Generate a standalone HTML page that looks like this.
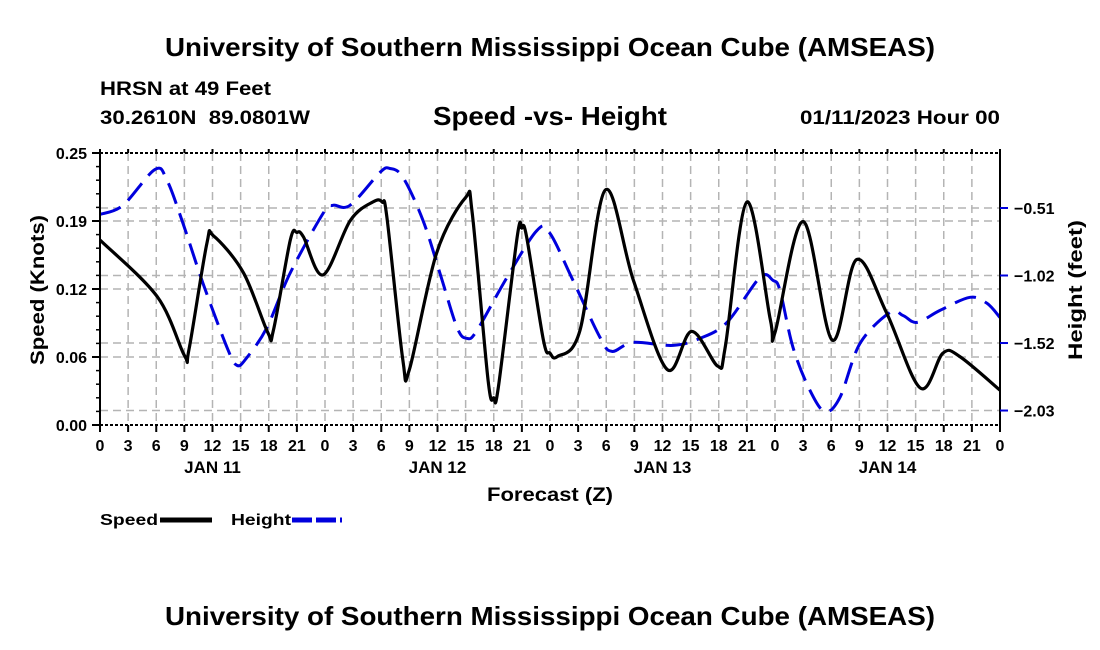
<!DOCTYPE html>
<html><head><meta charset="utf-8">
<style>
body{margin:0;background:#fff;}
svg{display:block;font-family:"Liberation Sans",Arial,sans-serif;font-weight:bold;}
</style></head>
<body>
<svg id="chart" width="1100" height="650" viewBox="0 0 1100 650" xmlns="http://www.w3.org/2000/svg">
<rect x="0" y="0" width="1100" height="650" fill="#fff"/>
<text x="165" y="56" font-size="26" textLength="770" lengthAdjust="spacingAndGlyphs">University of Southern Mississippi Ocean Cube (AMSEAS)</text>
<text x="100" y="95" font-size="19" textLength="171" lengthAdjust="spacingAndGlyphs">HRSN at 49 Feet</text>
<text x="100" y="124" font-size="19" textLength="210" lengthAdjust="spacingAndGlyphs" xml:space="preserve">30.2610N  89.0801W</text>
<text x="433" y="125" font-size="26" textLength="234" lengthAdjust="spacingAndGlyphs">Speed -vs- Height</text>
<text x="800" y="124" font-size="19" textLength="200" lengthAdjust="spacingAndGlyphs">01/11/2023 Hour 00</text>
<g id="grid"></g>
<g id="series"></g>
<g id="axes"></g>
<text transform="translate(44,290) rotate(-90)" text-anchor="middle" font-size="19" textLength="150" lengthAdjust="spacingAndGlyphs">Speed (Knots)</text>
<text transform="translate(1082,290) rotate(-90)" text-anchor="middle" font-size="19" textLength="140" lengthAdjust="spacingAndGlyphs">Height (feet)</text>
<text x="487" y="501" font-size="19" textLength="126" lengthAdjust="spacingAndGlyphs">Forecast (Z)</text>
<g>
<text x="100" y="525" font-size="16" textLength="58" lengthAdjust="spacingAndGlyphs">Speed</text>
<line x1="160" y1="520" x2="212" y2="520" stroke="#000" stroke-width="5"/>
<text x="231" y="525" font-size="16" textLength="60" lengthAdjust="spacingAndGlyphs">Height</text>
<line x1="292" y1="520" x2="342" y2="520" stroke="#0000dd" stroke-width="5" stroke-dasharray="20,4"/>
</g>
<text x="165" y="625" font-size="26" textLength="770" lengthAdjust="spacingAndGlyphs">University of Southern Mississippi Ocean Cube (AMSEAS)</text>
</svg>
<script>
const speedHours=[0,6.1,9.0,9.5,11.4,12.1,15.3,17.9,18.5,20.3,21.0,21.7,23.8,26.7,29.1,30.1,30.6,32.3,33.0,35.9,39.0,39.7,41.4,42.0,42.5,44.5,45.0,45.5,47.3,48.0,48.8,51.2,53.9,56.9,60.5,63.1,65.9,66.7,69.0,71.5,72.0,75.0,78.1,80.7,83.9,87.5,89.9,91.7,96];
const speedValues=[0.170,0.118,0.064,0.070,0.167,0.174,0.140,0.085,0.087,0.170,0.177,0.173,0.138,0.188,0.205,0.205,0.191,0.060,0.051,0.158,0.209,0.195,0.041,0.025,0.035,0.173,0.181,0.173,0.078,0.066,0.063,0.087,0.216,0.133,0.051,0.086,0.054,0.072,0.205,0.097,0.085,0.187,0.078,0.152,0.103,0.034,0.066,0.063,0.032];
const heightHours=[0,2.45,5.87,7.15,8.85,10.99,13.55,14.61,15.68,17.81,20.27,23.79,24.85,26.67,29.87,30.93,32.32,34.45,36.27,38.08,39.15,40.21,43.41,46.61,48.0,50.45,53.33,54.61,56.85,61.12,64.0,66.88,70.4,71.79,72.53,73.92,75.73,77.33,78.93,81.07,84.27,85.65,87.15,89.6,92.8,94.61,96];
const heightValues=[-0.555,-0.487,-0.217,-0.300,-0.623,-1.073,-1.554,-1.689,-1.629,-1.404,-0.998,-0.548,-0.487,-0.487,-0.240,-0.210,-0.277,-0.600,-0.998,-1.404,-1.486,-1.426,-1.028,-0.675,-0.698,-1.051,-1.479,-1.584,-1.516,-1.539,-1.486,-1.366,-1.028,-1.051,-1.126,-1.554,-1.877,-2.035,-1.929,-1.524,-1.291,-1.314,-1.366,-1.276,-1.178,-1.223,-1.329];
const speedTickValues=[0,0.0625,0.125,0.1875,0.25];
const speedTickLabels=["0.00","0.06","0.12","0.19","0.25"];
const heightTickValues=[-0.507,-1.014,-1.521,-2.028];
const heightTickLabels=["-0.51","-1.02","-1.52","-2.03"];
const hourTickLabels=["0","3","6","9","12","15","18","21"];
const dayLabels=["JAN 11","JAN 12","JAN 13","JAN 14"];

const L=100,R=1000,T=153,B=425,HMAX=96;
const NS="http://www.w3.org/2000/svg";
const xS=h=>L+(R-L)*h/HMAX;
const yS=s=>B-(B-T)*s/0.25;
const yH=v=>208+(-0.507-v)/0.00751;
function mk(tag,attrs,parent,txt){const e=document.createElementNS(NS,tag);for(const k in attrs)e.setAttribute(k,attrs[k]);if(txt!==undefined)e.textContent=txt;parent.appendChild(e);return e;}
const grid=document.getElementById('grid'),axes=document.getElementById('axes'),series=document.getElementById('series');
const gs={stroke:"#b4b4b4","stroke-width":1.5,"stroke-dasharray":"8,5",fill:"none"};
for(let h=3;h<HMAX;h+=3){const l=mk('line',Object.assign({x1:xS(h),y1:T,x2:xS(h),y2:B},gs),grid);

}
speedTickValues.slice(1,-1).forEach(v=>{const l=mk('line',Object.assign({x1:L,y1:yS(v),x2:R,y2:yS(v)},gs),grid);

});
heightTickValues.forEach(v=>{const l=mk('line',Object.assign({x1:L,y1:yH(v),x2:R,y2:yH(v)},gs),grid);

});
function smooth(pts){let d=`M${pts[0][0]},${pts[0][1]}`;for(let i=0;i<pts.length-1;i++){const p0=pts[Math.max(0,i-1)],p1=pts[i],p2=pts[i+1],p3=pts[Math.min(pts.length-1,i+2)];
const c1=[p1[0]+(p2[0]-p0[0])/6,p1[1]+(p2[1]-p0[1])/6],c2=[p2[0]-(p3[0]-p1[0])/6,p2[1]-(p3[1]-p1[1])/6];
d+=` C${c1[0].toFixed(1)},${c1[1].toFixed(1)} ${c2[0].toFixed(1)},${c2[1].toFixed(1)} ${p2[0].toFixed(1)},${p2[1].toFixed(1)}`;}return d;}
const hp=mk('path',{d:smooth(heightHours.map((h,i)=>[xS(h),yH(heightValues[i])])),stroke:"#0000dd","stroke-width":3,fill:"none","stroke-dasharray":"22,10"},series);


const sp=mk('path',{d:smooth(speedHours.map((h,i)=>[xS(h),yS(speedValues[i])])),stroke:"#000","stroke-width":3.2,fill:"none","stroke-linejoin":"round"},series);


mk('line',{x1:L,y1:T,x2:L,y2:B,stroke:"#000","stroke-width":2},axes);
mk('line',{x1:R,y1:T,x2:R,y2:B,stroke:"#000","stroke-width":2},axes);
mk('line',{x1:L,y1:B,x2:R,y2:B,stroke:"#000","stroke-width":2,"stroke-dasharray":"3,2"},axes);
mk('line',{x1:L,y1:T,x2:R,y2:T,stroke:"#000","stroke-width":2,"stroke-dasharray":"3,2"},axes);
for(let v=0;v<=0.25001;v+=0.0125){mk('line',{x1:L-4,y1:yS(v),x2:L,y2:yS(v),stroke:"#000","stroke-width":1.5},axes);}
speedTickValues.forEach((v,i)=>{mk('line',{x1:L-8,y1:yS(v),x2:L,y2:yS(v),stroke:"#000","stroke-width":2},axes);
const t=mk('text',{x:L-13,y:yS(v)+6,"text-anchor":"end","font-size":16},axes,speedTickLabels[i]);

});
heightTickValues.forEach((v,i)=>{mk('line',{x1:R,y1:yH(v),x2:R+8,y2:yH(v),stroke:"#0000dd","stroke-width":2},axes);
const t=mk('text',{x:R+14,y:yH(v)+6,"font-size":16},axes,heightTickLabels[i].replace('-','\u2212'));

});
for(let h=0;h<=HMAX;h+=3){mk('line',{x1:xS(h),y1:B,x2:xS(h),y2:B+7,stroke:"#000","stroke-width":2},axes);
mk('line',{x1:xS(h),y1:T-4,x2:xS(h),y2:T,stroke:"#000","stroke-width":2},axes);
const t=mk('text',{x:xS(h),y:B+26,"text-anchor":"middle","font-size":16},axes,hourTickLabels[(h/3)%8]);

}
dayLabels.forEach((d,i)=>{const t=mk('text',{x:xS(12+24*i),y:B+48,"text-anchor":"middle","font-size":17},axes,d);

});
</script>
</body></html>
